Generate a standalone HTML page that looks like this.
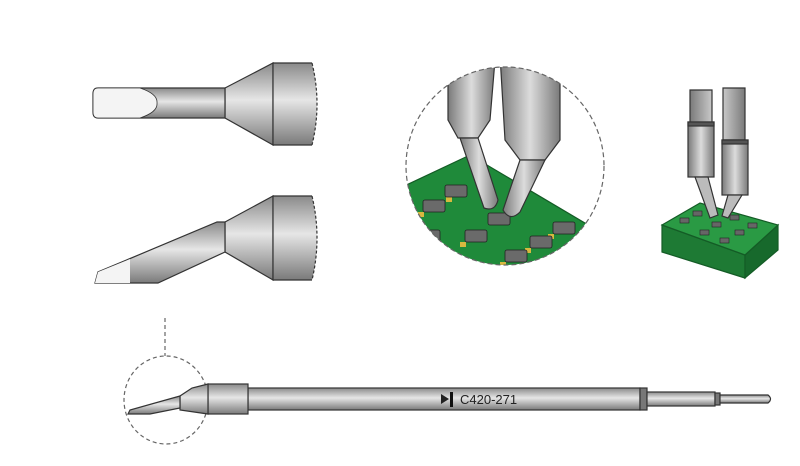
<!DOCTYPE html>
<html><head><style>
body{margin:0;background:#fff;width:800px;height:466px;overflow:hidden}
svg{display:block}
</style></head><body>
<svg width="800" height="466" viewBox="0 0 800 466" xmlns="http://www.w3.org/2000/svg">
<defs>
<linearGradient id="gv" x1="0" y1="0" x2="0" y2="1">
<stop offset="0" stop-color="#8a8a8a"/><stop offset="0.45" stop-color="#e6e6e6"/><stop offset="1" stop-color="#7a7a7a"/>
</linearGradient>
<linearGradient id="gh" x1="0" y1="0" x2="1" y2="0">
<stop offset="0" stop-color="#7a7a7a"/><stop offset="0.5" stop-color="#dcdcdc"/><stop offset="1" stop-color="#7a7a7a"/>
</linearGradient>
<clipPath id="cc"><circle cx="505" cy="166" r="99"/></clipPath>
</defs>
<g stroke="#333" stroke-width="1.2">
<!-- top tip -->
<rect x="225" y="88" width="48" height="30" fill="url(#gv)" stroke="none"/>
<path d="M225 88 L273 63 L273 145 L225 118 Z" fill="url(#gv)"/>
<path d="M273 63 L312 63 Q322 104 312 145 L273 145 Z" fill="url(#gv)" stroke="none"/>
<path d="M312 63 L273 63 L273 145 L312 145" fill="none"/>
<path d="M312 63 Q322 104 312 145" fill="none" stroke-dasharray="3,2"/>
<path d="M225 88 L98 88 Q93 88 93 94 L93 112 Q93 118 98 118 L225 118 Z" fill="url(#gv)"/>
<path d="M93 94 Q93 88 98 88 L140 88 Q158 94 157 103 Q158 112 140 118 L98 118 Q93 118 93 112Z" fill="#f4f4f4" stroke-width="0.8"/>
<!-- bottom tip -->
<path d="M225 222 L273 196 L273 280 L225 252 Z" fill="url(#gv)"/>
<path d="M273 196 L312 196 Q322 238 312 280 L273 280 Z" fill="url(#gv)" stroke="none"/>
<path d="M312 196 L273 196 L273 280 L312 280" fill="none"/>
<path d="M312 196 Q322 238 312 280" fill="none" stroke-dasharray="3,2"/>
<path d="M225 222 L217 222 L98 272 L95 283 L158 283 L225 252 Z" fill="url(#gv)"/>
<path d="M98 272 L130 259 L130 283 L95 283 Z" fill="#f4f4f4" stroke="none"/>
<!-- circle zoom -->
<g clip-path="url(#cc)">
<path d="M400 188 L470 155 L600 232 L560 300 L400 300 Z" fill="#1f8a3a" stroke="#145c26"/>
<g fill="#d8b840" stroke="none">
<rect x="418" y="212" width="6" height="5"/><rect x="446" y="197" width="6" height="5"/>
<rect x="460" y="242" width="6" height="5"/><rect x="500" y="262" width="6" height="5"/>
<rect x="525" y="248" width="6" height="5"/><rect x="548" y="234" width="6" height="5"/>
</g>
<g fill="#6a6a6a" stroke="#222" stroke-width="0.8">
<rect x="423" y="200" width="22" height="12" rx="2"/>
<rect x="445" y="185" width="22" height="12" rx="2"/>
<rect x="465" y="230" width="22" height="12" rx="2"/>
<rect x="488" y="213" width="22" height="12" rx="2"/>
<rect x="505" y="250" width="22" height="12" rx="2"/>
<rect x="530" y="236" width="22" height="12" rx="2"/>
<rect x="553" y="222" width="22" height="12" rx="2"/>
<rect x="418" y="230" width="22" height="12" rx="2"/>
</g>
<path d="M448 60 L495 60 L490 120 L478 138 L458 138 L448 120 Z" fill="url(#gh)"/>
<path d="M460 138 L478 138 L498 200 Q495 212 484 208 Z" fill="url(#gh)"/>
<path d="M500 55 L560 55 L560 140 L545 160 L520 160 L505 140 Z" fill="url(#gh)"/>
<path d="M520 160 L545 160 L520 212 Q510 222 503 210 Z" fill="url(#gh)"/>
</g>
<circle cx="505" cy="166" r="99" fill="none" stroke="#666" stroke-dasharray="5,3"/>
<!-- right pcb -->
<path d="M662 225 L745 255 L745 278 L662 252 Z" fill="#1e7a34" stroke="#145c26"/>
<path d="M745 255 L778 225 L778 250 L745 278 Z" fill="#17692c" stroke="#145c26"/>
<path d="M662 225 L700 203 L778 225 L745 255 Z" fill="#2a9a44" stroke="#145c26"/>
<g fill="#666" stroke="#222" stroke-width="0.6">
<rect x="680" y="218" width="9" height="5"/><rect x="693" y="211" width="9" height="5"/>
<rect x="700" y="230" width="9" height="5"/><rect x="720" y="238" width="9" height="5"/>
<rect x="735" y="230" width="9" height="5"/><rect x="748" y="223" width="9" height="5"/>
<rect x="712" y="222" width="9" height="5"/><rect x="730" y="215" width="9" height="5"/>
</g>
<path d="M690 90 L712 90 L712 123 L690 123Z M723 88 L745 88 L745 140 L723 140Z" fill="url(#gh)"/>
<rect x="688" y="122" width="26" height="55" fill="url(#gh)"/>
<rect x="722" y="140" width="26" height="55" fill="url(#gh)"/>
<rect x="688" y="122" width="26" height="4" fill="#555"/>
<rect x="722" y="140" width="26" height="4" fill="#555"/>
<path d="M695 177 L708 177 L718 215 L710 218 Z M728 195 L742 195 L728 218 L722 216Z" fill="#bbb"/>
<!-- bottom tip assembly -->
<path d="M165 318 L165 356" stroke="#666" stroke-dasharray="4,3" fill="none"/>
<ellipse cx="166" cy="400" rx="42" ry="44" fill="none" stroke="#666" stroke-dasharray="4,3"/>
<rect x="248" y="388" width="392" height="22" fill="url(#gv)"/>
<rect x="208" y="384" width="40" height="30" fill="url(#gv)"/>
<path d="M208 384 L192 388 L180 396 L180 410 L208 414 Z" fill="url(#gv)"/>
<path d="M180 396 L130 410 L128 414 L150 414 L180 408 Z" fill="url(#gv)"/>
<rect x="640" y="388" width="7" height="22" fill="#777"/>
<rect x="647" y="392" width="68" height="14" fill="url(#gv)"/>
<rect x="715" y="393" width="5" height="12" fill="#777"/>
<path d="M720 395 L768 395 Q773 399 768 403 L720 403Z" fill="url(#gv)"/>
</g>
<path d="M441 394 L449 399 L441 404Z" fill="#222"/>
<rect x="450" y="392" width="3" height="15" fill="#111"/>
<text x="460" y="404" font-family="Liberation Sans, sans-serif" font-size="13" fill="#222">C420-271</text>
</svg>
</body></html>
